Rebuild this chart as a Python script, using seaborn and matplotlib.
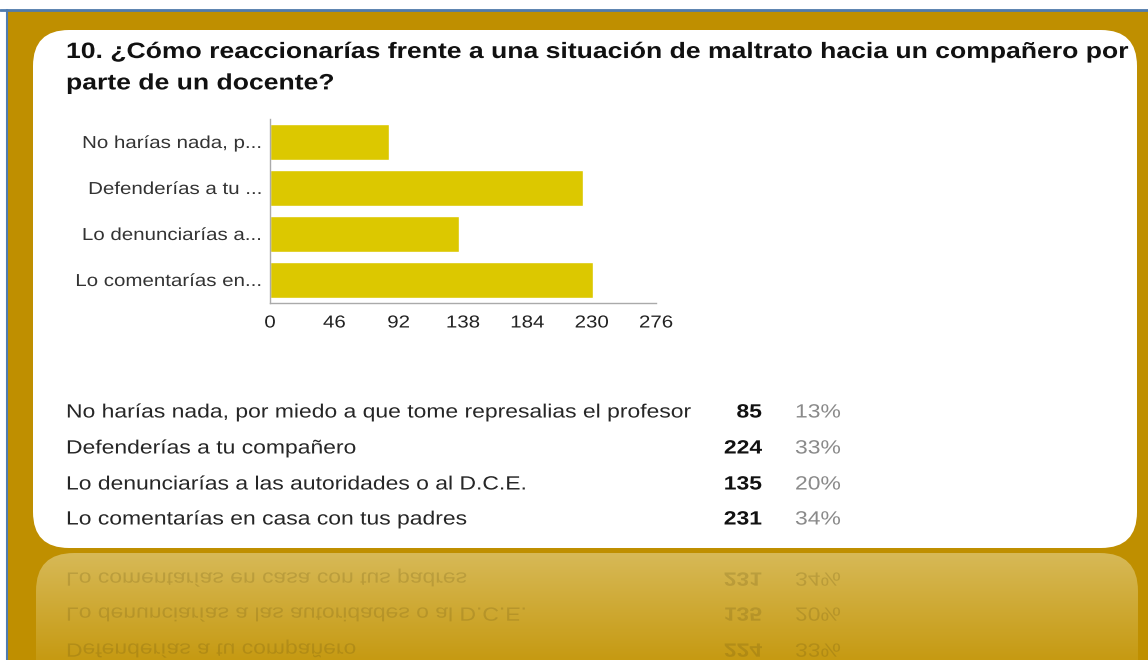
import numpy as np
import pandas as pd
import matplotlib
matplotlib.use("Agg")
import matplotlib.pyplot as plt
import seaborn as sns
from matplotlib.patches import FancyBboxPatch, Rectangle
from matplotlib.transforms import Affine2D
from matplotlib import patheffects
from matplotlib.colors import LinearSegmentedColormap

# ---- data ----
short_labels = ["No harías nada, p...", "Defenderías a tu ...", "Lo denunciarías a...", "Lo comentarías en..."]
full_labels = ["No harías nada, por miedo a que tome represalias el profesor",
               "Defenderías a tu compañero",
               "Lo denunciarías a las autoridades o al D.C.E.",
               "Lo comentarías en casa con tus padres"]
counts = [85, 224, 135, 231]
percents = [13, 33, 20, 34]
x_ticks = [0, 46, 92, 138, 184, 230, 276]
title = "10. ¿Cómo reaccionarías frente a una situación de maltrato hacia un compañero por\nparte de un docente?"

sns.set_style("white")
plt.rcParams['font.family'] = ['Liberation Sans', 'DejaVu Sans']

W, H = 1148, 660
DPI = 100
fig = plt.figure(figsize=(W / DPI, H / DPI), dpi=DPI)


class Stretch(patheffects.AbstractPathEffect):
    """Scale text paths about a display-space anchor (screenshot is stretched)."""
    def __init__(self, sx=1.0, x0=0.0, sy=1.0, y0=0.0):
        super().__init__()
        self.t = Affine2D().translate(-x0, -y0).scale(sx, sy).translate(x0, y0)

    def draw_path(self, renderer, gc, tpath, affine, rgbFace=None):
        renderer.draw_path(gc, tpath, affine + self.t, rgbFace)


SX = 1.18
SX_TITLE = 1.195
SX_TABLE = 1.195

# background axes in pixel coordinates
bg = fig.add_axes([0, 0, 1, 1])
bg.set_xlim(0, W)
bg.set_ylim(H, 0)
bg.axis("off")

GOLD = "#BF8F00"
bg.add_patch(Rectangle((0, 0), W, H, color="white", zorder=0))
bg.add_patch(Rectangle((7, 10), W - 7, H - 10, color=GOLD, zorder=1))
bg.plot([0, W], [9.5, 9.5], color="#4F7BAF", lw=2, zorder=2)
bg.plot([6.5, 6.5], [9.5, H], color="#4F7BAF", lw=1.5, zorder=2)

# reflection
refl = FancyBboxPatch((36, 553), 1102, 200, boxstyle="round,pad=0,rounding_size=38",
                      facecolor="none", edgecolor="none", zorder=2)
bg.add_patch(refl)
grad = np.linspace(0, 1, 256).reshape(-1, 1)
cmap = LinearSegmentedColormap.from_list("g", ["#D7B957", "#C69A12"])
im = bg.imshow(grad, extent=(36, 1138, 660, 553), cmap=cmap, aspect="auto", zorder=2)
im.set_clip_path(refl)

# white card
card = FancyBboxPatch((33, 30), 1104, 518, boxstyle="round,pad=0,rounding_size=36",
                      facecolor="white", edgecolor="none", zorder=3)
bg.add_patch(card)

# title
bg.text(66, 42, title, fontsize=16, fontweight="bold", color="#111111",
        va="top", ha="left", linespacing=1.65, zorder=5,
        path_effects=[Stretch(SX_TITLE, 66)])

# table
row_y = [413, 449, 485, 520]
mirror_y_disp = H - 548.5
TFS = 13.8
for y, lab, c, p in zip(row_y, full_labels, counts, percents):
    bg.text(66, y, lab, fontsize=TFS, color="#262626", va="center", ha="left", zorder=5,
            path_effects=[Stretch(SX_TABLE, 66)])
    bg.text(762, y, str(c), fontsize=TFS, fontweight="bold", color="#111111", va="center",
            ha="right", zorder=5, path_effects=[Stretch(SX_TABLE, 762)])
    bg.text(795, y, f"{p}%", fontsize=TFS, color="#8a8a8a", va="center", ha="left", zorder=5,
            path_effects=[Stretch(SX_TABLE, 795)])
    # faded mirror reflection below the card
    for xx, s, ha, fw in [(66, lab, "left", "normal"), (762, str(c), "right", "bold"),
                          (795, f"{p}%", "left", "normal")]:
        t = bg.text(xx, y, s, fontsize=TFS, color="#5a4a10", alpha=0.2, fontweight=fw,
                    va="center", ha=ha, zorder=4,
                    path_effects=[Stretch(SX_TABLE, xx, -1.0, mirror_y_disp)])
        t.set_clip_path(refl)

# bar chart
ax = fig.add_axes([270 / W, 1 - 303 / H, 386 / W, 184 / H])
ax.set_facecolor("none")
df = pd.DataFrame({"label": short_labels, "count": counts})
sns.barplot(data=df, x="count", y="label", orient="h", color="#DCC800",
            saturation=1, width=0.79, ax=ax)
ax.set_xlim(0, 276)
ax.set_xticks(x_ticks)
ax.set_xticklabels([str(t) for t in x_ticks])
ax.set_xlabel("")
ax.set_ylabel("")
for s in ["top", "right"]:
    ax.spines[s].set_visible(False)
for s in ["left", "bottom"]:
    ax.spines[s].set_color("#aaaaaa")
    ax.spines[s].set_linewidth(1)
ax.tick_params(axis="x", length=4, color="#aaaaaa", labelsize=12.5, labelcolor="#222222", pad=5)
ax.tick_params(axis="y", length=3, color="#aaaaaa", labelsize=12.5, labelcolor="#333333", pad=2)
ax.grid(False)

fig.canvas.draw()
ylab_anchor = ax.transAxes.transform((0, 0))[0] - (3 + 2) * DPI / 72
for lbl in ax.get_yticklabels():
    lbl.set_path_effects([Stretch(SX, ylab_anchor)])
for t, lbl in zip(x_ticks, ax.get_xticklabels()):
    xd = ax.transData.transform((t, 0))[0]
    lbl.set_path_effects([Stretch(SX, xd)])

fig.savefig("out.png", dpi=DPI)
